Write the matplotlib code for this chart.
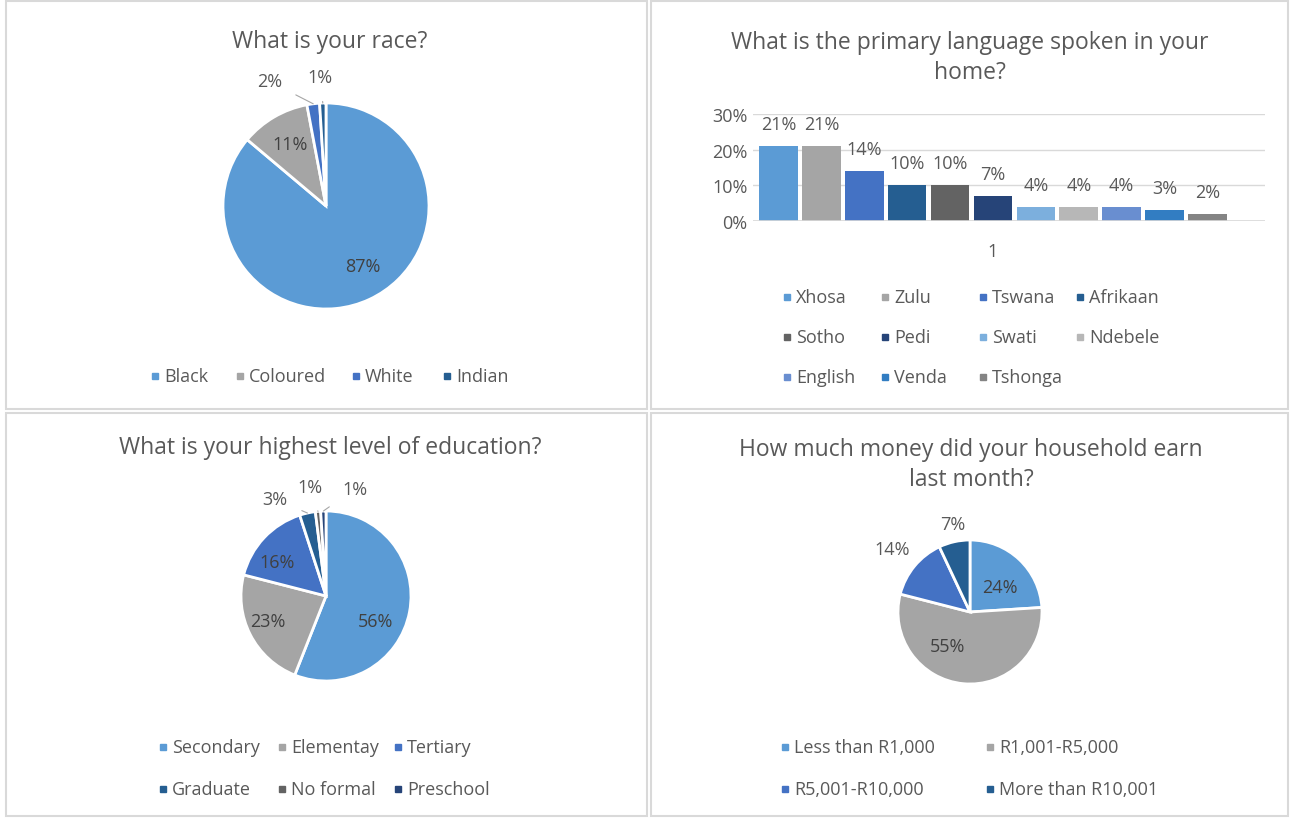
"""
Survey summary dashboard: race, home language, education and income.
Four Excel-style panels drawn with matplotlib.
"""

import numpy as np
import matplotlib
matplotlib.use("Agg")
import matplotlib.pyplot as plt
from matplotlib.lines import Line2D
from matplotlib.patches import Rectangle

W, H = 1291, 820
FONT = ["Open Sans", "DejaVu Sans"]
TXT = "#595959"
LBL = "#404040"
FS = 13          # labels / legend
FS_TITLE = 16.5

# --- data --------------------------------------------------------------
race_labels = ["Black", "Coloured", "White", "Indian"]
race_values = [87, 11, 2, 1]

lang_labels = ["Xhosa", "Zulu", "Tswana", "Afrikaan", "Sotho", "Pedi",
               "Swati", "Ndebele", "English", "Venda", "Tshonga"]
lang_values = [21, 21, 14, 10, 10, 7, 4, 4, 4, 3, 2]
lang_ticks = [0, 10, 20, 30]

edu_labels = ["Secondary", "Elementay", "Tertiary", "Graduate",
              "No formal", "Preschool"]
edu_values = [56, 23, 16, 3, 1, 1]

income_labels = ["Less than R1,000", "R1,001-R5,000", "R5,001-R10,000",
                 "More than R10,001"]
income_values = [24, 55, 14, 7]

# Office colour cycle (monochrome blue theme)
PALETTE = ["#5B9BD5", "#A5A5A5", "#4472C4", "#255E91", "#636363", "#264478",
           "#7CAFDD", "#B7B7B7", "#698ED0", "#327DC2", "#848484"]

plt.rcParams["font.family"] = FONT


def px_axes(fig, x0, y0, x1, y1):
    """Add axes using pixel coordinates measured from the top-left corner."""
    return fig.add_axes([x0 / W, 1 - y1 / H, (x1 - x0) / W, (y1 - y0) / H])


def add_legend(fig, labels, colors, col_x, row_y, ncol):
    """Excel-like legend: square marker + label on a fixed pixel grid."""
    for i, (lab, c) in enumerate(zip(labels, colors)):
        mx, my = col_x[i % ncol], row_y[i // ncol]
        fig.add_artist(Line2D([mx / W], [1 - my / H], marker="s", markersize=5,
                              markerfacecolor=c, markeredgecolor=c,
                              linestyle="none", transform=fig.transFigure))
        fig.text((mx + 9) / W, 1 - my / H, lab, ha="left", va="center",
                 fontsize=FS, color=TXT)


def draw_pie(fig, values, colors, cx, cy, r, label_pos, leaders):
    k = 1.6
    ax = px_axes(fig, cx - r * k, cy - r * k, cx + r * k, cy + r * k)
    wedges, _ = ax.pie(values, colors=colors, startangle=90, counterclock=False,
                       radius=1, wedgeprops=dict(edgecolor="white", linewidth=2))
    ax.set_xlim(-k, k)
    ax.set_ylim(-k, k)
    ax.set_aspect("equal")
    ax.set_axis_off()
    for w, v, pos, lead in zip(wedges, values, label_pos, leaders):
        txt = f"{v}%"
        if lead:
            mid = np.deg2rad((w.theta1 + w.theta2) / 2)
            ax.annotate(txt, xy=(np.cos(mid), np.sin(mid)), xytext=pos,
                        ha="center", va="center", fontsize=FS, color=TXT,
                        arrowprops=dict(arrowstyle="-", color="#a6a6a6", lw=0.8,
                                        shrinkA=9, shrinkB=0))
        else:
            inside = pos[0] ** 2 + pos[1] ** 2 < 1
            ax.text(pos[0], pos[1], txt, ha="center", va="center",
                    fontsize=FS, color=LBL if inside else TXT)
    return ax


fig = plt.figure(figsize=(W / 100, H / 100), dpi=100)

# panel frames
for x0, y0, x1, y1 in [(6, 2, 647, 410), (651, 2, 1288, 410),
                       (6, 414, 647, 817), (651, 414, 1288, 817)]:
    fig.patches.append(Rectangle((x0 / W, 1 - y1 / H), (x1 - x0) / W, (y1 - y0) / H,
                                 transform=fig.transFigure, fill=False,
                                 edgecolor="#d9d9d9", linewidth=1.5))

title_kw = dict(ha="center", va="center", fontsize=FS_TITLE, color=TXT)

# --- race ---
fig.text(330 / W, 1 - 42 / H, "What is your race?", **title_kw)
draw_pie(fig, race_values, PALETTE[:4], 326, 207, 103,
         [(0.36, -0.58), (-0.35, 0.6), (-0.55, 1.21), (-0.06, 1.25)],
         [False, False, True, True])
add_legend(fig, race_labels, PALETTE[:4], [155, 240, 356, 447], [377], 4)

# --- language ---
fig.text(970 / W, 1 - 58 / H, "What is the primary language spoken in your\nhome?",
         linespacing=1.3, **title_kw)
ax = px_axes(fig, 753, 115, 1265, 222)
x = np.arange(len(lang_values))
bars = ax.bar(x, lang_values, width=0.9, color=PALETTE, zorder=3)
for b, v in zip(bars, lang_values):
    ax.annotate(f"{v}%", (b.get_x() + b.get_width() / 2, v), xytext=(0, 16),
                textcoords="offset points", ha="center", va="center",
                fontsize=FS, color=TXT)
ax.set_xlim(-0.593, 11.34)
ax.set_ylim(0, 30)
ax.set_yticks(lang_ticks)
ax.set_yticklabels([f"{t}%" for t in lang_ticks])
ax.set_xticks([5])
ax.set_xticklabels(["1"])
ax.tick_params(length=0, labelsize=FS, labelcolor=TXT)
ax.tick_params(axis="y", pad=4)
ax.tick_params(axis="x", pad=15)
ax.grid(axis="y", color="#d9d9d9", linewidth=1, zorder=0)
for s in ax.spines.values():
    s.set_visible(False)
ax.axhline(0, color="#d9d9d9", linewidth=1.2, zorder=4)
add_legend(fig, lang_labels, PALETTE, [787, 885, 983, 1080], [298, 338, 378], 4)

# --- education ---
fig.text(330 / W, 1 - 448 / H, "What is your highest level of education?", **title_kw)
draw_pie(fig, edu_values, PALETTE[:6], 326, 597, 85,
         [(0.58, -0.29), (-0.69, -0.29), (-0.58, 0.4), (-0.6, 1.14),
          (-0.19, 1.28), (0.34, 1.26)],
         [False, False, False, True, True, True])
add_legend(fig, edu_labels, PALETTE[:6], [163, 282, 398], [748, 790], 3)

# --- income ---
fig.text(971 / W, 1 - 465 / H, "How much money did your household earn\nlast month?",
         linespacing=1.3, **title_kw)
draw_pie(fig, income_values, PALETTE[:4], 970, 613, 72,
         [(0.42, 0.35), (-0.31, -0.47), (-1.08, 0.88), (-0.24, 1.22)],
         [False, False, False, False])
add_legend(fig, income_labels, PALETTE[:4], [785, 990], [748, 790], 2)

fig.savefig("out.png", dpi=100, facecolor="white")
